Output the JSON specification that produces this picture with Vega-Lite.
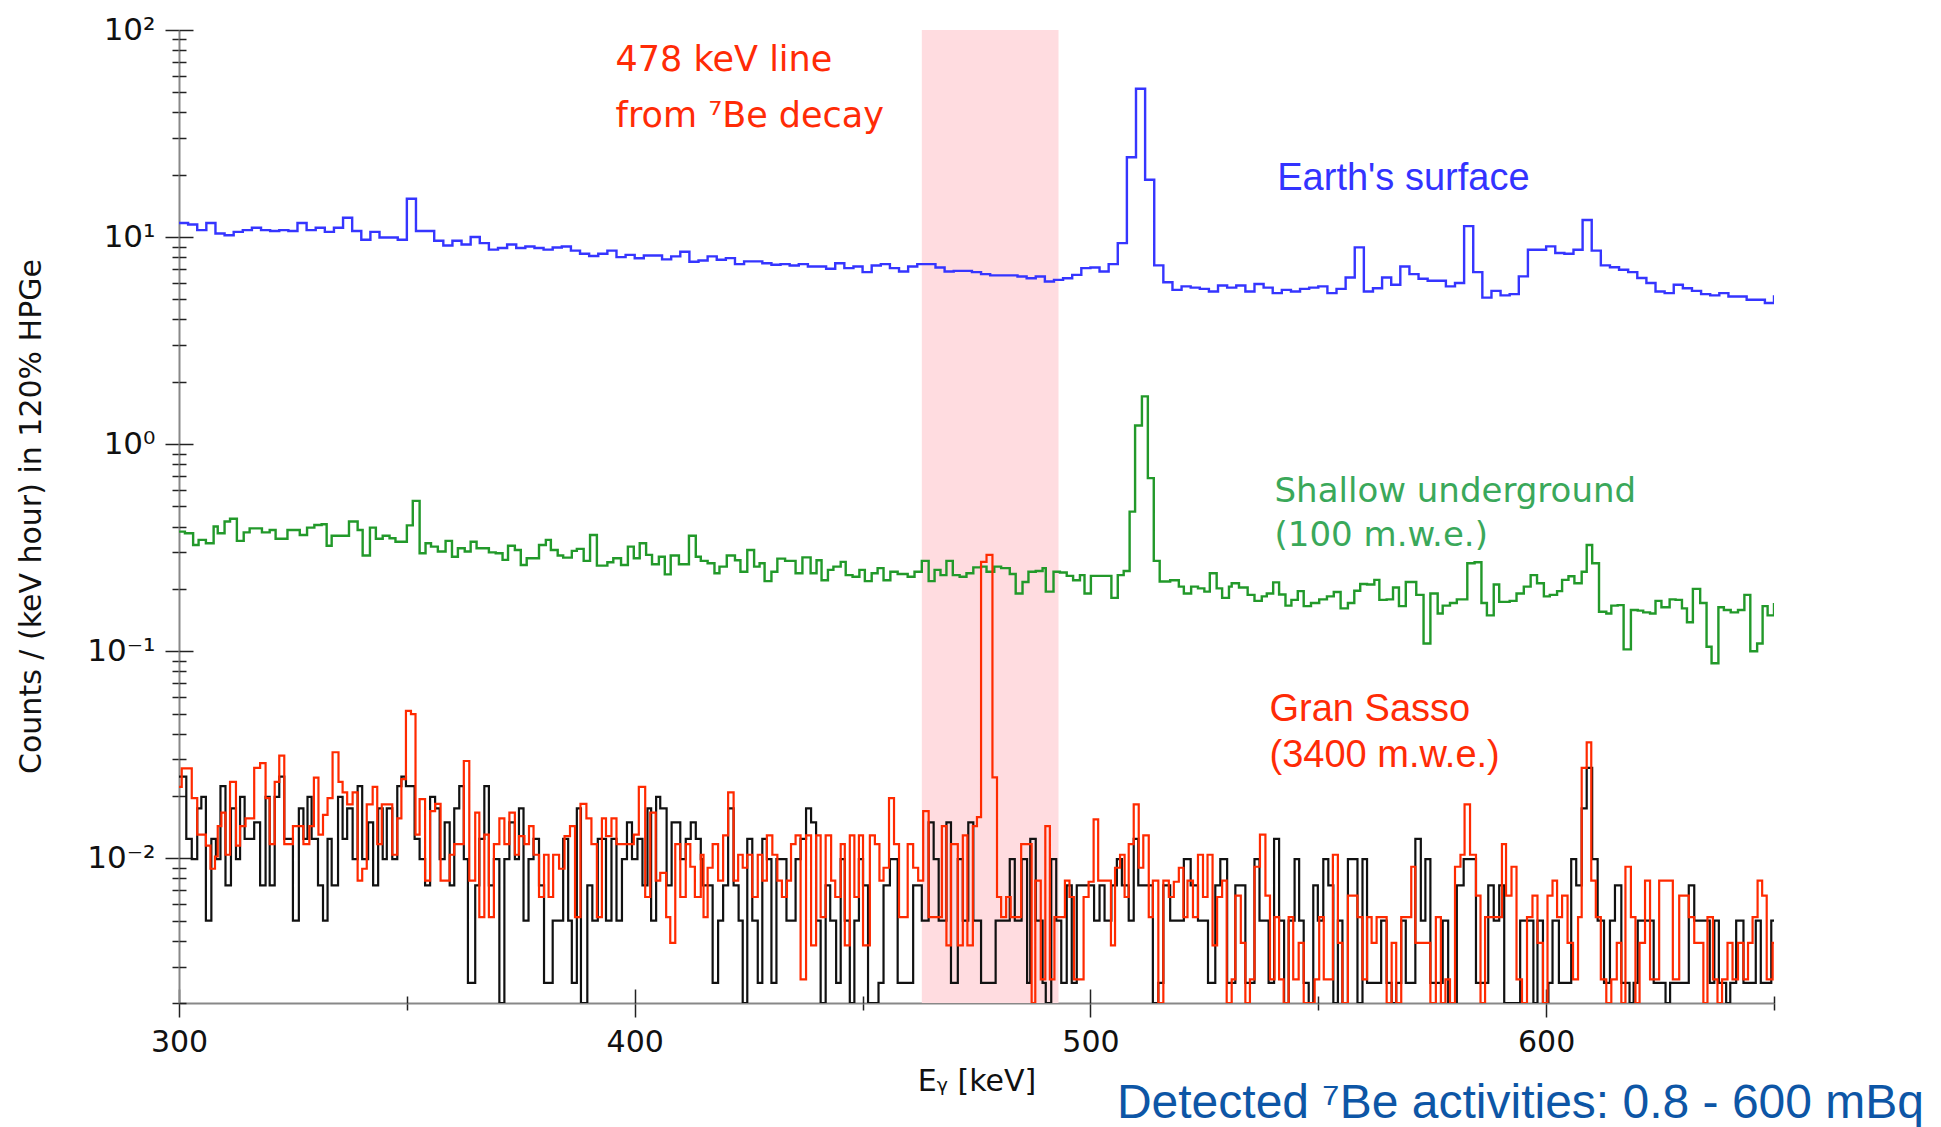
{
"$schema":"https://vega.github.io/schema/vega-lite/v6.json",
"width":1595,"height":973,
"autosize":{"type":"none"},
"padding":{"left":179,"top":30,"right":167,"bottom":124},
"background":"white",
"config":{"view":{"stroke":null},"font":"DejaVu Sans","axis":{"grid":false,"labelFlush":false,"labelOverlap":false}},
"title":{"text":"Detected ⁷Be activities: 0.8 - 600 mBq","orient":"bottom","anchor":"end","frame":"group","font":"Liberation Sans","fontSize":48,"fontWeight":"normal","color":"#0d56a6","dx":150,"offset":-16},
"datasets":{
"band":[{"lo":463,"hi":493}],
"blue":[{"e":300,"v":11.7},{"e":302,"v":11.5},{"e":304,"v":10.8},{"e":306,"v":11.7},{"e":308,"v":10.4},{"e":310,"v":10.2},{"e":312,"v":10.6},{"e":314,"v":10.8},{"e":316,"v":11.1},{"e":318,"v":10.8},{"e":320,"v":10.7},{"e":322,"v":10.8},{"e":324,"v":10.7},{"e":326,"v":11.7},{"e":328,"v":10.8},{"e":330,"v":11.1},{"e":332,"v":10.6},{"e":334,"v":11.1},{"e":336,"v":12.4},{"e":338,"v":10.7},{"e":340,"v":9.7},{"e":342,"v":10.6},{"e":344,"v":9.96},{"e":346,"v":9.96},{"e":348,"v":9.7},{"e":350,"v":15.3},{"e":352,"v":10.7},{"e":354,"v":10.7},{"e":356,"v":9.6},{"e":358,"v":9.1},{"e":360,"v":9.6},{"e":362,"v":9.2},{"e":364,"v":10.0},{"e":366,"v":9.35},{"e":368,"v":8.7},{"e":370,"v":8.85},{"e":372,"v":9.2},{"e":374,"v":8.85},{"e":376,"v":9.0},{"e":378,"v":8.85},{"e":380,"v":8.7},{"e":382,"v":8.9},{"e":384,"v":9.0},{"e":386,"v":8.6},{"e":388,"v":8.3},{"e":390,"v":8.1},{"e":392,"v":8.3},{"e":394,"v":8.6},{"e":396,"v":8.0},{"e":398,"v":8.2},{"e":400,"v":7.9},{"e":402,"v":8.15},{"e":404,"v":8.15},{"e":406,"v":7.8},{"e":408,"v":8.07},{"e":410,"v":8.5},{"e":412,"v":7.6},{"e":414,"v":7.7},{"e":416,"v":8.07},{"e":418,"v":7.77},{"e":420,"v":7.91},{"e":422,"v":7.4},{"e":424,"v":7.63},{"e":426,"v":7.63},{"e":428,"v":7.48},{"e":430,"v":7.35},{"e":432,"v":7.4},{"e":434,"v":7.29},{"e":436,"v":7.4},{"e":438,"v":7.21},{"e":440,"v":7.21},{"e":442,"v":7.03},{"e":444,"v":7.48},{"e":446,"v":7.08},{"e":448,"v":7.21},{"e":450,"v":6.77},{"e":452,"v":7.29},{"e":454,"v":7.4},{"e":456,"v":7.08},{"e":458,"v":6.82},{"e":460,"v":7.21},{"e":462,"v":7.4},{"e":464,"v":7.4},{"e":466,"v":7.13},{"e":468,"v":6.82},{"e":470,"v":6.87},{"e":472,"v":6.87},{"e":474,"v":6.77},{"e":476,"v":6.62},{"e":478,"v":6.53},{"e":480,"v":6.53},{"e":482,"v":6.53},{"e":484,"v":6.45},{"e":486,"v":6.33},{"e":488,"v":6.45},{"e":490,"v":6.1},{"e":492,"v":6.21},{"e":494,"v":6.33},{"e":496,"v":6.57},{"e":498,"v":7.08},{"e":500,"v":7.13},{"e":502,"v":6.82},{"e":504,"v":7.4},{"e":506,"v":9.35},{"e":508,"v":24.3},{"e":510,"v":52},{"e":512,"v":18.9},{"e":514,"v":7.3},{"e":516,"v":6.05},{"e":518,"v":5.56},{"e":520,"v":5.78},{"e":522,"v":5.7},{"e":524,"v":5.62},{"e":526,"v":5.46},{"e":528,"v":5.84},{"e":530,"v":5.7},{"e":532,"v":5.84},{"e":534,"v":5.46},{"e":536,"v":5.93},{"e":538,"v":5.7},{"e":540,"v":5.36},{"e":542,"v":5.56},{"e":544,"v":5.46},{"e":546,"v":5.62},{"e":548,"v":5.7},{"e":550,"v":5.78},{"e":552,"v":5.36},{"e":554,"v":5.62},{"e":556,"v":6.38},{"e":558,"v":8.92},{"e":560,"v":5.46},{"e":562,"v":5.66},{"e":564,"v":6.38},{"e":566,"v":5.88},{"e":568,"v":7.21},{"e":570,"v":6.62},{"e":572,"v":6.29},{"e":574,"v":6.15},{"e":576,"v":6.15},{"e":578,"v":5.78},{"e":580,"v":6.0},{"e":582,"v":11.3},{"e":584,"v":6.77},{"e":586,"v":5.1},{"e":588,"v":5.5},{"e":590,"v":5.23},{"e":592,"v":5.3},{"e":594,"v":6.46},{"e":596,"v":8.69},{"e":598,"v":8.69},{"e":600,"v":9.02},{"e":602,"v":8.37},{"e":604,"v":8.3},{"e":606,"v":8.69},{"e":608,"v":12.1},{"e":610,"v":8.6},{"e":612,"v":7.3},{"e":614,"v":7.15},{"e":616,"v":6.95},{"e":618,"v":6.77},{"e":620,"v":6.34},{"e":622,"v":6.0},{"e":624,"v":5.46},{"e":626,"v":5.36},{"e":628,"v":5.88},{"e":630,"v":5.66},{"e":632,"v":5.5},{"e":634,"v":5.3},{"e":636,"v":5.23},{"e":638,"v":5.36},{"e":640,"v":5.16},{"e":642,"v":5.16},{"e":644,"v":4.98},{"e":646,"v":4.98},{"e":648,"v":4.8},{"e":650,"v":5.23}],
"green":[{"e":300,"v":0.378},{"e":301.3,"v":0.371},{"e":303.1,"v":0.326},{"e":304.3,"v":0.345},{"e":305.9,"v":0.332},{"e":307.6,"v":0.4},{"e":308.5,"v":0.371},{"e":310.0,"v":0.423},{"e":311.2,"v":0.436},{"e":312.7,"v":0.341},{"e":314.2,"v":0.375},{"e":315.5,"v":0.392},{"e":318.2,"v":0.375},{"e":319.9,"v":0.385},{"e":321.2,"v":0.349},{"e":323.8,"v":0.385},{"e":326.5,"v":0.364},{"e":328.1,"v":0.395},{"e":329.7,"v":0.407},{"e":331.3,"v":0.41},{"e":332.4,"v":0.323},{"e":333.5,"v":0.361},{"e":337.3,"v":0.423},{"e":339.2,"v":0.385},{"e":340.3,"v":0.29},{"e":341.9,"v":0.395},{"e":343.2,"v":0.349},{"e":344.7,"v":0.361},{"e":346.2,"v":0.351},{"e":347.5,"v":0.338},{"e":350.0,"v":0.405},{"e":351.3,"v":0.532},{"e":352.8,"v":0.297},{"e":354.1,"v":0.332},{"e":355.3,"v":0.32},{"e":356.8,"v":0.303},{"e":358.5,"v":0.341},{"e":359.9,"v":0.286},{"e":361.2,"v":0.314},{"e":362.7,"v":0.303},{"e":364.0,"v":0.338},{"e":365.3,"v":0.314},{"e":368.0,"v":0.3},{"e":369.5,"v":0.297},{"e":371.0,"v":0.276},{"e":372.2,"v":0.323},{"e":373.7,"v":0.308},{"e":375.0,"v":0.261},{"e":376.3,"v":0.281},{"e":379.0,"v":0.326},{"e":380.5,"v":0.345},{"e":381.6,"v":0.308},{"e":383.1,"v":0.29},{"e":384.3,"v":0.283},{"e":386.2,"v":0.305},{"e":387.3,"v":0.312},{"e":388.8,"v":0.273},{"e":390.2,"v":0.364},{"e":391.7,"v":0.259},{"e":394.0,"v":0.269},{"e":395.3,"v":0.281},{"e":397.0,"v":0.261},{"e":398.5,"v":0.32},{"e":399.8,"v":0.281},{"e":401.1,"v":0.332},{"e":402.5,"v":0.292},{"e":403.8,"v":0.263},{"e":405.3,"v":0.286},{"e":406.6,"v":0.235},{"e":407.9,"v":0.29},{"e":409.7,"v":0.263},{"e":411.9,"v":0.361},{"e":413.4,"v":0.286},{"e":414.5,"v":0.273},{"e":416.0,"v":0.266},{"e":417.5,"v":0.238},{"e":418.6,"v":0.256},{"e":420.2,"v":0.29},{"e":422.0,"v":0.275},{"e":423.2,"v":0.242},{"e":424.7,"v":0.308},{"e":426.2,"v":0.256},{"e":427.4,"v":0.266},{"e":428.5,"v":0.218},{"e":430.0,"v":0.242},{"e":431.3,"v":0.28},{"e":433.0,"v":0.273},{"e":435.3,"v":0.238},{"e":436.8,"v":0.284},{"e":438.6,"v":0.238},{"e":439.9,"v":0.275},{"e":441.0,"v":0.22},{"e":442.4,"v":0.247},{"e":443.6,"v":0.256},{"e":445.2,"v":0.27},{"e":446.3,"v":0.233},{"e":447.8,"v":0.229},{"e":449.3,"v":0.247},{"e":450.5,"v":0.218},{"e":452.0,"v":0.238},{"e":453.3,"v":0.252},{"e":454.6,"v":0.22},{"e":456.1,"v":0.242},{"e":457.7,"v":0.236},{"e":459.9,"v":0.229},{"e":461.4,"v":0.242},{"e":463.0,"v":0.273},{"e":464.5,"v":0.218},{"e":465.8,"v":0.247},{"e":467.1,"v":0.233},{"e":468.4,"v":0.273},{"e":469.8,"v":0.233},{"e":471.3,"v":0.229},{"e":472.8,"v":0.238},{"e":474.3,"v":0.254},{"e":476.0,"v":0.256},{"e":477.2,"v":0.242},{"e":478.9,"v":0.256},{"e":480.4,"v":0.252},{"e":482.3,"v":0.236},{"e":483.6,"v":0.19},{"e":485.1,"v":0.216},{"e":486.4,"v":0.242},{"e":488.0,"v":0.244},{"e":489.5,"v":0.252},{"e":490.2,"v":0.194},{"e":491.9,"v":0.242},{"e":493.3,"v":0.24},{"e":494.8,"v":0.231},{"e":496.2,"v":0.22},{"e":497.7,"v":0.233},{"e":498.7,"v":0.19},{"e":500.1,"v":0.231},{"e":504.6,"v":0.181},{"e":506.0,"v":0.233},{"e":507.3,"v":0.244},{"e":508.6,"v":0.472},{"e":509.8,"v":1.23},{"e":511.3,"v":1.7},{"e":512.6,"v":0.685},{"e":513.9,"v":0.273},{"e":515.2,"v":0.217},{"e":517.5,"v":0.22},{"e":519.4,"v":0.205},{"e":520.5,"v":0.19},{"e":522.1,"v":0.205},{"e":523.6,"v":0.201},{"e":525.0,"v":0.194},{"e":526.2,"v":0.238},{"e":527.7,"v":0.201},{"e":528.9,"v":0.181},{"e":530.4,"v":0.205},{"e":531.0,"v":0.213},{"e":532.6,"v":0.203},{"e":534.5,"v":0.187},{"e":536.0,"v":0.175},{"e":537.6,"v":0.184},{"e":538.7,"v":0.19},{"e":540.1,"v":0.215},{"e":541.4,"v":0.188},{"e":542.8,"v":0.166},{"e":544.1,"v":0.177},{"e":545.5,"v":0.195},{"e":546.8,"v":0.165},{"e":548.4,"v":0.171},{"e":550.2,"v":0.178},{"e":551.9,"v":0.184},{"e":553.4,"v":0.193},{"e":554.9,"v":0.161},{"e":556.5,"v":0.171},{"e":557.9,"v":0.196},{"e":559.2,"v":0.211},{"e":560.7,"v":0.21},{"e":562.3,"v":0.221},{"e":563.4,"v":0.177},{"e":565.0,"v":0.178},{"e":566.4,"v":0.203},{"e":567.7,"v":0.165},{"e":569.2,"v":0.216},{"e":571.5,"v":0.187},{"e":573.1,"v":0.109},{"e":574.6,"v":0.19},{"e":576.2,"v":0.152},{"e":577.3,"v":0.166},{"e":578.9,"v":0.171},{"e":580.4,"v":0.178},{"e":582.7,"v":0.266},{"e":584.3,"v":0.269},{"e":585.8,"v":0.171},{"e":587.0,"v":0.149},{"e":588.5,"v":0.21},{"e":589.7,"v":0.173},{"e":592.0,"v":0.175},{"e":593.5,"v":0.19},{"e":595.1,"v":0.205},{"e":596.6,"v":0.233},{"e":598.0,"v":0.213},{"e":599.5,"v":0.184},{"e":600.8,"v":0.187},{"e":602.4,"v":0.195},{"e":603.5,"v":0.221},{"e":604.9,"v":0.23},{"e":606.2,"v":0.213},{"e":607.8,"v":0.242},{"e":608.9,"v":0.326},{"e":610.1,"v":0.266},{"e":611.6,"v":0.155},{"e":613.2,"v":0.152},{"e":614.3,"v":0.166},{"e":615.7,"v":0.167},{"e":617.0,"v":0.102},{"e":618.6,"v":0.158},{"e":620.1,"v":0.157},{"e":621.3,"v":0.154},{"e":622.8,"v":0.152},{"e":624.0,"v":0.175},{"e":625.3,"v":0.163},{"e":627.1,"v":0.178},{"e":628.4,"v":0.177},{"e":629.8,"v":0.161},{"e":630.9,"v":0.138},{"e":632.2,"v":0.2},{"e":633.8,"v":0.171},{"e":635.2,"v":0.105},{"e":636.3,"v":0.0875},{"e":637.8,"v":0.163},{"e":639.0,"v":0.158},{"e":640.5,"v":0.154},{"e":642.1,"v":0.158},{"e":643.5,"v":0.187},{"e":644.8,"v":0.1},{"e":646.3,"v":0.109},{"e":647.5,"v":0.165},{"e":648.6,"v":0.149},{"e":650,"v":0.171}],
"black":[{"e":300.0,"v":0.0248},{"e":301.6,"v":0.0124},{"e":302.8,"v":0.0099},{"e":304.0,"v":0.0174},{"e":304.9,"v":0.0198},{"e":305.9,"v":0.005},{"e":307.1,"v":0.0124},{"e":308.1,"v":0.0099},{"e":309.1,"v":0.0223},{"e":310.2,"v":0.0074},{"e":311.4,"v":0.0174},{"e":312.5,"v":0.0099},{"e":313.4,"v":0.0198},{"e":314.4,"v":0.0124},{"e":316.5,"v":0.0149},{"e":317.8,"v":0.0074},{"e":319.0,"v":0.0198},{"e":319.9,"v":0.0074},{"e":321.0,"v":0.0198},{"e":322.0,"v":0.0248},{"e":323.1,"v":0.0124},{"e":325.0,"v":0.005},{"e":326.3,"v":0.0174},{"e":327.3,"v":0.0124},{"e":328.2,"v":0.0198},{"e":329.1,"v":0.0124},{"e":330.5,"v":0.0074},{"e":331.6,"v":0.005},{"e":332.6,"v":0.0124},{"e":333.5,"v":0.0074},{"e":334.9,"v":0.0198},{"e":335.9,"v":0.0124},{"e":336.9,"v":0.0174},{"e":338.1,"v":0.0099},{"e":339.2,"v":0.0223},{"e":340.2,"v":0.0099},{"e":341.5,"v":0.0149},{"e":342.6,"v":0.0074},{"e":343.7,"v":0.0174},{"e":344.7,"v":0.0099},{"e":345.6,"v":0.0174},{"e":346.8,"v":0.0099},{"e":347.9,"v":0.0223},{"e":348.8,"v":0.0248},{"e":349.8,"v":0.0223},{"e":351.7,"v":0.0124},{"e":352.8,"v":0.0099},{"e":354.0,"v":0.0074},{"e":355.1,"v":0.0198},{"e":356.2,"v":0.0174},{"e":357.2,"v":0.0099},{"e":358.3,"v":0.0149},{"e":359.4,"v":0.0074},{"e":360.4,"v":0.0174},{"e":361.5,"v":0.0223},{"e":362.5,"v":0.0099},{"e":363.4,"v":0.0025},{"e":365.0,"v":0.0074},{"e":365.9,"v":0.0124},{"e":367.0,"v":0.0223},{"e":368.0,"v":0.0074},{"e":369.1,"v":0.0099},{"e":370.3,"v":0},{"e":371.4,"v":0.0099},{"e":372.5,"v":0.0149},{"e":373.7,"v":0.0099},{"e":374.6,"v":0.0174},{"e":375.6,"v":0.005},{"e":376.7,"v":0.0099},{"e":377.8,"v":0.0124},{"e":379.0,"v":0.0074},{"e":380.1,"v":0.0025},{"e":382.0,"v":0.005},{"e":384.3,"v":0.0124},{"e":385.4,"v":0.005},{"e":386.2,"v":0.0025},{"e":387.3,"v":0.0174},{"e":388.2,"v":0},{"e":389.6,"v":0.0074},{"e":390.7,"v":0.005},{"e":391.9,"v":0.0124},{"e":393.7,"v":0.005},{"e":394.9,"v":0.0124},{"e":396.0,"v":0.005},{"e":397.2,"v":0.0099},{"e":398.3,"v":0.0149},{"e":399.4,"v":0.0099},{"e":400.6,"v":0.0124},{"e":401.7,"v":0.0074},{"e":402.8,"v":0.0174},{"e":403.6,"v":0.005},{"e":404.7,"v":0.0198},{"e":405.6,"v":0.0174},{"e":407.0,"v":0.0074},{"e":408.1,"v":0.0149},{"e":410.0,"v":0.0099},{"e":411.2,"v":0.0124},{"e":412.3,"v":0.0149},{"e":413.4,"v":0.0124},{"e":414.5,"v":0.0099},{"e":414.9,"v":0.0074},{"e":417.1,"v":0.0025},{"e":418.3,"v":0.005},{"e":419.4,"v":0.0074},{"e":420.5,"v":0.0174},{"e":421.7,"v":0.0074},{"e":422.8,"v":0.005},{"e":423.7,"v":0},{"e":424.7,"v":0.0124},{"e":425.8,"v":0.005},{"e":427.0,"v":0.0025},{"e":428.0,"v":0.0124},{"e":429.0,"v":0.0099},{"e":430.0,"v":0.0025},{"e":431.1,"v":0.0099},{"e":433.3,"v":0.005},{"e":435.3,"v":0.0099},{"e":436.4,"v":0.0124},{"e":437.6,"v":0.0174},{"e":438.7,"v":0.0149},{"e":439.8,"v":0.005},{"e":440.8,"v":0},{"e":441.9,"v":0.0074},{"e":442.9,"v":0.005},{"e":444.2,"v":0.0025},{"e":445.2,"v":0.0099},{"e":446.1,"v":0.005},{"e":447.2,"v":0},{"e":448.2,"v":0.005},{"e":449.2,"v":0.0099},{"e":450.1,"v":0.0074},{"e":451.2,"v":0},{"e":453.5,"v":0.0025},{"e":454.6,"v":0.0074},{"e":456.0,"v":0.0099},{"e":457.7,"v":0.0025},{"e":461.1,"v":0.0074},{"e":463.0,"v":0.005},{"e":464.5,"v":0.0149},{"e":465.6,"v":0.0099},{"e":466.7,"v":0.005},{"e":468.4,"v":0.0149},{"e":469.4,"v":0.0025},{"e":470.9,"v":0.0099},{"e":472.0,"v":0.005},{"e":473.2,"v":0.0149},{"e":474.3,"v":0.005},{"e":476.0,"v":0.0025},{"e":479.2,"v":0.005},{"e":482.3,"v":0.0099},{"e":483.4,"v":0.005},{"e":484.9,"v":0.0099},{"e":486.1,"v":0.0025},{"e":486.8,"v":0.0124},{"e":488.0,"v":0.005},{"e":489.5,"v":0.0025},{"e":490.2,"v":0},{"e":491.4,"v":0.0099},{"e":492.5,"v":0.005},{"e":493.6,"v":0.0025},{"e":494.8,"v":0.0074},{"e":495.9,"v":0.0025},{"e":497.0,"v":0.0074},{"e":500.8,"v":0.005},{"e":502.0,"v":0.0074},{"e":503.1,"v":0.005},{"e":504.6,"v":0.0074},{"e":505.8,"v":0.0099},{"e":506.9,"v":0.0074},{"e":508.4,"v":0.005},{"e":509.5,"v":0.0124},{"e":510.5,"v":0.0074},{"e":513.7,"v":0},{"e":514.9,"v":0.0025},{"e":516.0,"v":0.0074},{"e":517.5,"v":0.005},{"e":520.5,"v":0.0099},{"e":522.0,"v":0.0074},{"e":523.6,"v":0.005},{"e":525.8,"v":0.0025},{"e":527.4,"v":0.0074},{"e":528.5,"v":0.0099},{"e":530.0,"v":0.0025},{"e":531.8,"v":0.0074},{"e":534.0,"v":0.0025},{"e":536.0,"v":0.0099},{"e":537.1,"v":0.005},{"e":539.1,"v":0.0025},{"e":540.3,"v":0.0124},{"e":541.4,"v":0.005},{"e":542.5,"v":0},{"e":543.5,"v":0.005},{"e":544.8,"v":0.0099},{"e":545.8,"v":0.005},{"e":546.8,"v":0.0025},{"e":547.9,"v":0},{"e":548.9,"v":0.0074},{"e":549.9,"v":0.005},{"e":551.1,"v":0.0099},{"e":552.2,"v":0.0074},{"e":553.3,"v":0},{"e":554.3,"v":0.005},{"e":555.3,"v":0},{"e":556.5,"v":0.0099},{"e":558.6,"v":0},{"e":559.7,"v":0.0099},{"e":560.7,"v":0.0025},{"e":563.8,"v":0.005},{"e":565.0,"v":0.0025},{"e":566.1,"v":0},{"e":567.1,"v":0.0025},{"e":568.2,"v":0.005},{"e":569.2,"v":0.0025},{"e":571.3,"v":0.0124},{"e":572.5,"v":0.005},{"e":573.5,"v":0.0099},{"e":574.6,"v":0.0025},{"e":577.3,"v":0.005},{"e":578.5,"v":0},{"e":580.4,"v":0.0074},{"e":581.9,"v":0.0099},{"e":584.6,"v":0.0025},{"e":587.3,"v":0.0074},{"e":588.5,"v":0.005},{"e":589.7,"v":0.0074},{"e":590.8,"v":0},{"e":594.3,"v":0.005},{"e":597.2,"v":0},{"e":598.1,"v":0.005},{"e":599.3,"v":0},{"e":600.5,"v":0.0025},{"e":601.4,"v":0.005},{"e":602.8,"v":0.0025},{"e":605.5,"v":0.0099},{"e":606.6,"v":0.0074},{"e":607.8,"v":0.0174},{"e":608.9,"v":0.0273},{"e":610.1,"v":0.0099},{"e":611.3,"v":0.005},{"e":612.7,"v":0.0025},{"e":614.0,"v":0.005},{"e":615.1,"v":0.0074},{"e":616.5,"v":0.0025},{"e":618.3,"v":0},{"e":619.2,"v":0.0025},{"e":620.1,"v":0.005},{"e":621.9,"v":0.005},{"e":623.6,"v":0.0025},{"e":626.2,"v":0},{"e":627.2,"v":0.0025},{"e":631.3,"v":0.0074},{"e":632.5,"v":0.005},{"e":635.9,"v":0.0025},{"e":636.9,"v":0.005},{"e":637.9,"v":0.0025},{"e":639.5,"v":0},{"e":640.4,"v":0.0025},{"e":641.7,"v":0.005},{"e":643.3,"v":0.0025},{"e":646.0,"v":0.005},{"e":647.1,"v":0.0025},{"e":649.4,"v":0.005},{"e":650,"v":0.005}],
"red":[{"e":300.0,"v":0.0221},{"e":300.6,"v":0.0272},{"e":302.8,"v":0.0195},{"e":304.0,"v":0.013},{"e":305.9,"v":0.0115},{"e":306.9,"v":0.0089},{"e":307.9,"v":0.0102},{"e":308.5,"v":0.0143},{"e":309.3,"v":0.0166},{"e":310.2,"v":0.0104},{"e":311.2,"v":0.0234},{"e":312.5,"v":0.0115},{"e":313.4,"v":0.0143},{"e":314.6,"v":0.0156},{"e":316.5,"v":0.0273},{"e":317.8,"v":0.0288},{"e":319.0,"v":0.0195},{"e":319.9,"v":0.0117},{"e":321.0,"v":0.0234},{"e":322.0,"v":0.0313},{"e":323.1,"v":0.0117},{"e":325.0,"v":0.0143},{"e":327.3,"v":0.0117},{"e":328.6,"v":0.0143},{"e":329.6,"v":0.0245},{"e":330.6,"v":0.013},{"e":331.6,"v":0.0162},{"e":332.6,"v":0.0195},{"e":333.7,"v":0.0325},{"e":335.0,"v":0.0234},{"e":335.9,"v":0.0208},{"e":336.9,"v":0.0182},{"e":338.1,"v":0.0208},{"e":339.2,"v":0.0078},{"e":340.2,"v":0.0089},{"e":341.2,"v":0.0182},{"e":342.5,"v":0.0221},{"e":343.5,"v":0.0117},{"e":344.5,"v":0.0182},{"e":346.8,"v":0.0104},{"e":347.9,"v":0.0156},{"e":348.8,"v":0.0241},{"e":349.8,"v":0.0515},{"e":350.9,"v":0.0497},{"e":351.9,"v":0.013},{"e":352.8,"v":0.0193},{"e":354.0,"v":0.0078},{"e":355.1,"v":0.0169},{"e":356.2,"v":0.0183},{"e":357.4,"v":0.0078},{"e":359.4,"v":0.0104},{"e":360.4,"v":0.0117},{"e":362.5,"v":0.0295},{"e":363.7,"v":0.0078},{"e":365.0,"v":0.0166},{"e":365.9,"v":0.0052},{"e":367.0,"v":0.013},{"e":368.0,"v":0.0052},{"e":369.1,"v":0.0117},{"e":370.3,"v":0.0156},{"e":371.4,"v":0.0117},{"e":372.5,"v":0.0166},{"e":373.7,"v":0.0104},{"e":374.6,"v":0.0128},{"e":375.8,"v":0.0117},{"e":376.8,"v":0.0143},{"e":377.8,"v":0.0104},{"e":379.0,"v":0.0065},{"e":380.1,"v":0.0104},{"e":381.1,"v":0.0065},{"e":382.1,"v":0.0104},{"e":383.4,"v":0.0089},{"e":384.6,"v":0.0128},{"e":385.8,"v":0.0143},{"e":386.9,"v":0.0052},{"e":388.1,"v":0.0183},{"e":389.4,"v":0.0156},{"e":390.5,"v":0.0117},{"e":391.7,"v":0.0052},{"e":392.8,"v":0.0156},{"e":393.7,"v":0.0128},{"e":394.9,"v":0.0156},{"e":396.0,"v":0.0117},{"e":399.8,"v":0.013},{"e":400.9,"v":0.0221},{"e":402.3,"v":0.0065},{"e":403.4,"v":0.0166},{"e":404.6,"v":0.0078},{"e":405.6,"v":0.0085},{"e":406.9,"v":0.0052},{"e":407.8,"v":0.0039},{"e":408.9,"v":0.0117},{"e":410.0,"v":0.0065},{"e":411.2,"v":0.0117},{"e":412.2,"v":0.0091},{"e":413.2,"v":0.0065},{"e":414.5,"v":0.0104},{"e":415.1,"v":0.0052},{"e":416.0,"v":0.009},{"e":417.1,"v":0.0117},{"e":418.3,"v":0.0078},{"e":419.4,"v":0.0129},{"e":420.5,"v":0.0208},{"e":421.7,"v":0.0078},{"e":422.7,"v":0.0104},{"e":423.7,"v":0.009},{"e":424.7,"v":0.0104},{"e":425.8,"v":0.0065},{"e":427.0,"v":0.0104},{"e":428.0,"v":0.0078},{"e":429.0,"v":0.0129},{"e":430.2,"v":0.0104},{"e":431.3,"v":0.0078},{"e":432.3,"v":0.0065},{"e":433.4,"v":0.0078},{"e":434.3,"v":0.0117},{"e":435.3,"v":0.0129},{"e":436.4,"v":0.0026},{"e":437.6,"v":0.0129},{"e":438.7,"v":0.0038},{"e":439.8,"v":0.0129},{"e":440.8,"v":0.0052},{"e":441.9,"v":0.0129},{"e":443.1,"v":0.0078},{"e":444.0,"v":0.0065},{"e":445.2,"v":0.0117},{"e":446.1,"v":0.0038},{"e":447.2,"v":0.0129},{"e":448.2,"v":0.0065},{"e":449.2,"v":0.0129},{"e":450.1,"v":0.0038},{"e":451.6,"v":0.0129},{"e":452.7,"v":0.0117},{"e":453.7,"v":0.0078},{"e":454.6,"v":0.009},{"e":455.8,"v":0.0195},{"e":456.9,"v":0.0117},{"e":458.0,"v":0.0052},{"e":459.9,"v":0.0117},{"e":461.1,"v":0.009},{"e":462.2,"v":0.0078},{"e":463.3,"v":0.0169},{"e":464.5,"v":0.0052},{"e":467.4,"v":0.0143},{"e":468.4,"v":0.0038},{"e":469.4,"v":0.0117},{"e":470.9,"v":0.0038},{"e":472.0,"v":0.0129},{"e":473.0,"v":0.0038},{"e":474.2,"v":0.0143},{"e":475.1,"v":0.0158},{"e":476.0,"v":0.27},{"e":477.2,"v":0.292},{"e":478.5,"v":0.0246},{"e":479.5,"v":0.0065},{"e":480.4,"v":0.0052},{"e":481.5,"v":0.0065},{"e":482.5,"v":0.0052},{"e":484.8,"v":0.0117},{"e":487.1,"v":0},{"e":487.9,"v":0.0078},{"e":489.1,"v":0.0026},{"e":490.1,"v":0.0143},{"e":491.1,"v":0.0026},{"e":492.1,"v":0.0052},{"e":494.4,"v":0.0078},{"e":495.4,"v":0.0065},{"e":496.4,"v":0.0026},{"e":498.5,"v":0.0065},{"e":499.6,"v":0.0077},{"e":500.7,"v":0.0154},{"e":501.7,"v":0.0078},{"e":504.5,"v":0.0038},{"e":505.4,"v":0.009},{"e":506.5,"v":0.0104},{"e":507.5,"v":0.0065},{"e":508.4,"v":0.0117},{"e":509.5,"v":0.0182},{"e":510.6,"v":0.009},{"e":511.6,"v":0.0129},{"e":512.8,"v":0.0052},{"e":513.7,"v":0.0078},{"e":514.9,"v":0},{"e":516.0,"v":0.0078},{"e":517.2,"v":0.0065},{"e":518.3,"v":0.0077},{"e":519.4,"v":0.009},{"e":520.4,"v":0.0052},{"e":521.3,"v":0.0078},{"e":522.5,"v":0.0052},{"e":523.6,"v":0.0104},{"e":524.7,"v":0.0065},{"e":525.7,"v":0.0104},{"e":526.8,"v":0.0038},{"e":527.8,"v":0.0065},{"e":528.9,"v":0.0078},{"e":529.9,"v":0},{"e":531.0,"v":0.0026},{"e":531.8,"v":0.0066},{"e":533.0,"v":0.0039},{"e":534.0,"v":0},{"e":535.0,"v":0.0026},{"e":536.0,"v":0.0091},{"e":537.2,"v":0.013},{"e":538.4,"v":0.0066},{"e":539.4,"v":0.0026},{"e":540.4,"v":0.0052},{"e":541.4,"v":0.0026},{"e":542.4,"v":0},{"e":543.5,"v":0.0052},{"e":544.5,"v":0.0026},{"e":545.7,"v":0.0039},{"e":546.8,"v":0},{"e":549.2,"v":0.0026},{"e":550.2,"v":0.0052},{"e":551.2,"v":0.0026},{"e":553.2,"v":0.0104},{"e":554.3,"v":0.0039},{"e":555.3,"v":0},{"e":556.5,"v":0.0066},{"e":558.6,"v":0.0052},{"e":559.7,"v":0.0026},{"e":560.7,"v":0.0052},{"e":561.7,"v":0.0039},{"e":562.8,"v":0.0052},{"e":565.0,"v":0},{"e":566.1,"v":0.0039},{"e":567.1,"v":0},{"e":568.2,"v":0.0052},{"e":570.4,"v":0.0091},{"e":571.3,"v":0.0039},{"e":574.6,"v":0},{"e":575.8,"v":0.0052},{"e":576.9,"v":0},{"e":577.9,"v":0.0026},{"e":578.9,"v":0},{"e":580.0,"v":0.0091},{"e":581.2,"v":0.0104},{"e":582.1,"v":0.0182},{"e":583.3,"v":0.0104},{"e":584.6,"v":0.0066},{"e":585.6,"v":0},{"e":586.6,"v":0.0052},{"e":590.3,"v":0.0117},{"e":591.2,"v":0.0066},{"e":592.4,"v":0.0091},{"e":593.5,"v":0.0026},{"e":594.7,"v":0},{"e":595.8,"v":0.0052},{"e":597.0,"v":0.0066},{"e":598.1,"v":0.0039},{"e":599.3,"v":0},{"e":600.3,"v":0.0066},{"e":601.4,"v":0.0078},{"e":602.4,"v":0.0052},{"e":603.5,"v":0.0066},{"e":604.7,"v":0.0039},{"e":605.9,"v":0.0026},{"e":607.0,"v":0.0052},{"e":607.8,"v":0.0273},{"e":608.9,"v":0.0363},{"e":609.9,"v":0.0078},{"e":610.9,"v":0.0052},{"e":612.0,"v":0.0026},{"e":613.2,"v":0},{"e":614.3,"v":0.0026},{"e":615.5,"v":0.0039},{"e":616.5,"v":0},{"e":617.4,"v":0.0091},{"e":618.6,"v":0.0052},{"e":619.6,"v":0},{"e":620.5,"v":0.0039},{"e":621.7,"v":0.0078},{"e":622.8,"v":0.0026},{"e":624.8,"v":0.0078},{"e":627.8,"v":0.0026},{"e":629.2,"v":0.0066},{"e":631.3,"v":0.0052},{"e":632.5,"v":0.0039},{"e":634.5,"v":0},{"e":635.4,"v":0.0052},{"e":636.6,"v":0.0026},{"e":637.6,"v":0},{"e":638.6,"v":0.0026},{"e":639.8,"v":0.0039},{"e":640.9,"v":0.0026},{"e":642.1,"v":0.0039},{"e":643.3,"v":0.0026},{"e":644.3,"v":0.0039},{"e":645.3,"v":0.0052},{"e":646.4,"v":0.0078},{"e":647.4,"v":0.0066},{"e":648.4,"v":0.0026},{"e":649.7,"v":0.0039},{"e":650,"v":0.0039}]
},
"layer":[
{"data":{"name":"band"},"mark":{"type":"rect","color":"#ffdce0"},
 "encoding":{"x":{"field":"lo","type":"quantitative","scale":{"domain":[300,650],"nice":false,"zero":false},"axis":null},"x2":{"field":"hi"}}},
{"data":{"name":"blue"},"mark":{"type":"line","interpolate":"step-after","color":"#3535ff","strokeWidth":2.4,"clip":true},
 "encoding":{
  "x":{"field":"e","type":"quantitative","scale":{"domain":[300,650],"nice":false,"zero":false},
   "axis":{"orient":"bottom","values":[300,350,400,450,500,550,600,650],"labelExpr":"datum.value % 100 == 0 ? datum.label : ''",
    "tickSize":{"condition":{"test":"datum.value % 100 == 0","value":14},"value":7},"tickColor":"#222","tickWidth":1.5,
    "domainColor":"#888","domainWidth":2,"labelFont":"DejaVu Sans","labelFontSize":30,"labelColor":"#111","labelPadding":10,
    "title":"Eᵧ [keV]","titleFont":"DejaVu Sans","titleFontSize":30,"titleFontWeight":"normal","titleColor":"#111","titleY":78,"titleBaseline":"middle"}},
  "y":{"field":"v","type":"quantitative","scale":{"type":"log","domain":[0.002,100],"nice":false,"clamp":true},
   "axis":{"orient":"left","values":[0.002,0.003,0.004,0.005,0.006,0.007,0.008,0.009,0.01,0.02,0.03,0.04,0.05,0.06,0.07,0.08,0.09,0.1,0.2,0.3,0.4,0.5,0.6,0.7,0.8,0.9,1,2,3,4,5,6,7,8,9,10,20,30,40,50,60,70,80,90,100],
    "labelExpr":"datum.value == 100 ? '10²' : datum.value == 10 ? '10¹' : datum.value == 1 ? '10⁰' : datum.value == 0.1 ? '10⁻¹' : datum.value == 0.01 ? '10⁻²' : ''",
    "tickSize":{"condition":{"test":"abs(log(datum.value)/LN10 - round(log(datum.value)/LN10)) < 0.001","value":14},"value":7},"tickColor":"#222","tickWidth":1.5,
    "domainColor":"#888","domainWidth":2,"labelFont":"DejaVu Sans","labelFontSize":31,"labelColor":"#111","labelPadding":10,"labelBaseline":"middle",
    "title":"Counts / (keV hour) in 120% HPGe","titleFont":"DejaVu Sans","titleFontSize":30,"titleFontWeight":"normal","titleColor":"#111","titleX":-148,"titleY":486,"titleBaseline":"middle"}}}},
{"data":{"name":"green"},"mark":{"type":"line","interpolate":"step-after","color":"#22992a","strokeWidth":2.4,"clip":true},
 "encoding":{
  "x":{"field":"e","type":"quantitative","scale":{"domain":[300,650],"nice":false,"zero":false},
   "axis":{"orient":"top","offset":-973,"values":[300,350,400,450,500,550,600,650],"labels":false,"domain":false,"title":null,
    "tickSize":{"condition":{"test":"datum.value % 100 == 0","value":14},"value":7},"tickColor":"#222","tickWidth":1.5}},
  "y":{"field":"v","type":"quantitative","scale":{"type":"log","domain":[0.002,100],"nice":false,"clamp":true},
   "axis":{"orient":"right","offset":-1595,"values":[0.002,0.003,0.004,0.005,0.006,0.007,0.008,0.009,0.01,0.02,0.03,0.04,0.05,0.06,0.07,0.08,0.09,0.1,0.2,0.3,0.4,0.5,0.6,0.7,0.8,0.9,1,2,3,4,5,6,7,8,9,10,20,30,40,50,60,70,80,90,100],
    "labels":false,"domain":false,"title":null,
    "tickSize":{"condition":{"test":"abs(log(datum.value)/LN10 - round(log(datum.value)/LN10)) < 0.001","value":14},"value":7},"tickColor":"#222","tickWidth":1.5}}}},
{"data":{"name":"black"},"mark":{"type":"line","interpolate":"step-after","color":"#111111","strokeWidth":2.2,"clip":true},
 "encoding":{
  "x":{"field":"e","type":"quantitative","scale":{"domain":[300,650],"nice":false,"zero":false},"axis":null},
  "y":{"field":"v","type":"quantitative","scale":{"type":"log","domain":[0.002,100],"nice":false,"clamp":true},"axis":null}}},
{"data":{"name":"red"},"mark":{"type":"line","interpolate":"step-after","color":"#ff2a00","strokeWidth":2.2,"clip":true},
 "encoding":{
  "x":{"field":"e","type":"quantitative","scale":{"domain":[300,650],"nice":false,"zero":false},"axis":null},
  "y":{"field":"v","type":"quantitative","scale":{"type":"log","domain":[0.002,100],"nice":false,"clamp":true},"axis":null}}},
{"data":{"values":[{"e":395.8,"v":63.4,"t":"478 keV line\nfrom ⁷Be decay"}]},
 "mark":{"type":"text","align":"left","baseline":"alphabetic","font":"DejaVu Sans","fontSize":35,"color":"#ff2b06","lineBreak":"\n","lineHeight":56},
 "encoding":{"x":{"field":"e","type":"quantitative","scale":{"domain":[300,650],"nice":false,"zero":false},"axis":null},
  "y":{"field":"v","type":"quantitative","scale":{"type":"log","domain":[0.002,100],"nice":false,"clamp":true},"axis":null},"text":{"field":"t"}}},
{"data":{"values":[{"e":541,"v":16.9,"t":"Earth's surface"}]},
 "mark":{"type":"text","align":"left","baseline":"alphabetic","font":"Liberation Sans","fontSize":38,"color":"#3333ff"},
 "encoding":{"x":{"field":"e","type":"quantitative","scale":{"domain":[300,650],"nice":false,"zero":false},"axis":null},
  "y":{"field":"v","type":"quantitative","scale":{"type":"log","domain":[0.002,100],"nice":false,"clamp":true},"axis":null},"text":{"field":"t"}}},
{"data":{"values":[{"e":540.4,"v":0.524,"t":"Shallow underground\n(100 m.w.e.)"}]},
 "mark":{"type":"text","align":"left","baseline":"alphabetic","font":"DejaVu Sans","fontSize":34,"color":"#3aa85a","lineBreak":"\n","lineHeight":44},
 "encoding":{"x":{"field":"e","type":"quantitative","scale":{"domain":[300,650],"nice":false,"zero":false},"axis":null},
  "y":{"field":"v","type":"quantitative","scale":{"type":"log","domain":[0.002,100],"nice":false,"clamp":true},"axis":null},"text":{"field":"t"}}},
{"data":{"values":[{"e":539.3,"v":0.0462,"t":"Gran Sasso\n(3400 m.w.e.)"}]},
 "mark":{"type":"text","align":"left","baseline":"alphabetic","font":"Liberation Sans","fontSize":38,"color":"#ff2b06","lineBreak":"\n","lineHeight":46},
 "encoding":{"x":{"field":"e","type":"quantitative","scale":{"domain":[300,650],"nice":false,"zero":false},"axis":null},
  "y":{"field":"v","type":"quantitative","scale":{"type":"log","domain":[0.002,100],"nice":false,"clamp":true},"axis":null},"text":{"field":"t"}}}
],
"resolve":{"axis":{"x":"independent","y":"independent"}}
}
